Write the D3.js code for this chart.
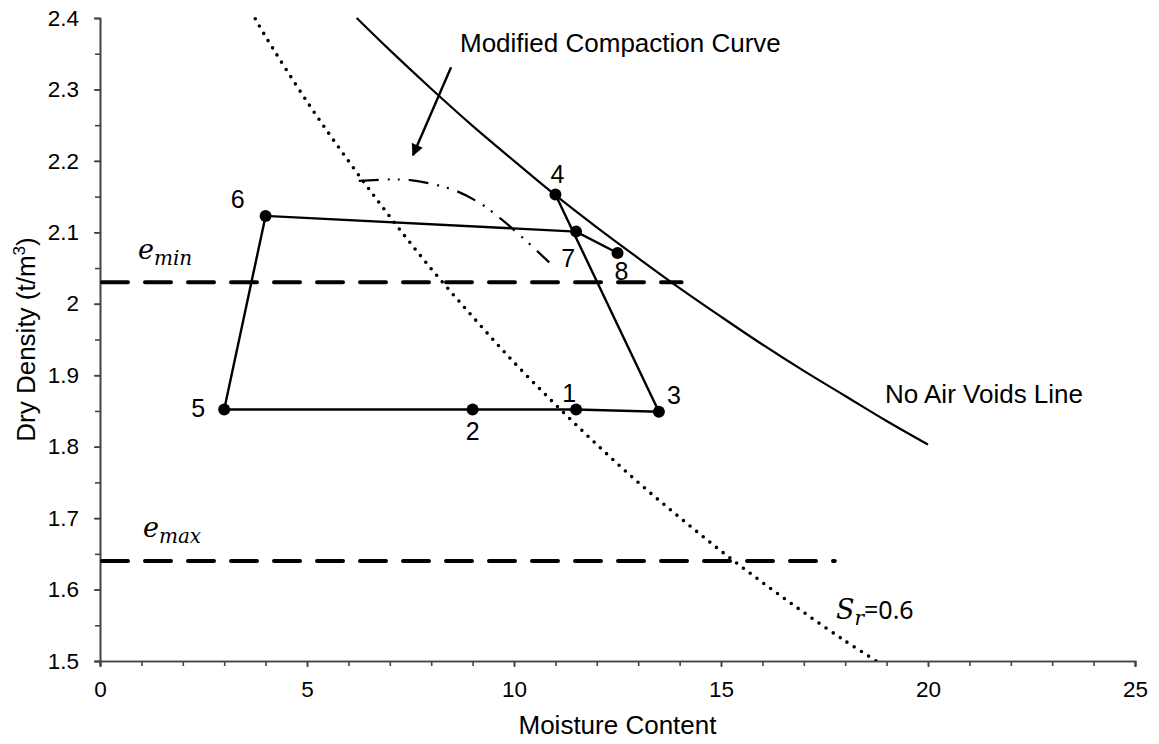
<!DOCTYPE html>
<html>
<head>
<meta charset="utf-8">
<script src="https://cdn.jsdelivr.net/npm/d3@7"></script>
<style>
  body { margin: 0; background: #fff; }
  text { font-family: "Liberation Sans", Arial, sans-serif; fill: #000; }
  .math { font-family: "DejaVu Serif", serif; font-style: italic; }
</style>
</head>
<body>
<svg id="chart"></svg>
<script>
// Stress path points
var ptLabels = ['1', '2', '3', '4', '5', '6', '7', '8'];
var ptMoisture = [11.5, 9, 13.5, 11, 3, 4, 11.5, 12.5];
var ptDensity = [1.852, 1.852, 1.849, 2.153, 1.852, 2.123, 2.101, 2.071];
// which points are joined, in order
var pathA = ['5', '2', '1', '3', '4'];
var pathB = ['5', '6', '7', '8'];

// No air voids line
var zavMoisture = [6.2, 7, 8, 9, 10, 11, 12, 13, 14, 15, 16, 17, 18, 19, 20];
var zavDensity = [2.40, 2.355, 2.301, 2.249, 2.200, 2.152, 2.107, 2.064, 2.022, 1.982, 1.943, 1.906, 1.871, 1.836, 1.803];

// Sr = 0.6 line
var srMoisture = [3.75, 4, 5, 6, 7, 8, 9, 10, 11, 12, 13, 14, 15, 16, 17, 18, 18.75];
var srDensity = [2.399, 2.374, 2.283, 2.200, 2.122, 2.049, 1.982, 1.918, 1.859, 1.803, 1.750, 1.701, 1.654, 1.610, 1.568, 1.528, 1.50];

// Modified compaction curve
var mcMoisture = [6.25, 7, 7.5, 8, 8.6, 9.2, 9.7, 10.2, 10.85];
var mcDensity = [2.172, 2.174, 2.173, 2.168, 2.158, 2.14, 2.118, 2.093, 2.058];

// void ratio limits: [density, x start, x end]
var eMin = [2.03, 0, 14.0];
var eMax = [1.64, 0, 17.7];

// axis ticks
var xTicks = [0, 5, 10, 15, 20, 25];
var yTicks = [1.5, 1.6, 1.7, 1.8, 1.9, 2.0, 2.1, 2.2, 2.3, 2.4];

// annotation arrow [x, y] start -> end
var arrowFrom = [8.48, 2.331];
var arrowTo = [7.56, 2.208];

var W = 1159, H = 744;
var margin = { top: 18, right: 24, bottom: 83, left: 100 };
var width = W - margin.left - margin.right;
var height = H - margin.top - margin.bottom;

var svg = d3.select('#chart').attr('width', W).attr('height', H);

var xScale = d3.scaleLinear().domain([0, 25]).range([0, width]);
var yScale = d3.scaleLinear().domain([1.5, 2.4]).range([height, 0]);

var g = svg.append('g')
    .attr('transform', 'translate(' + margin.left + ',' + margin.top + ')');

svg.append('defs').append('clipPath').attr('id', 'plotclip')
    .append('rect').attr('x', 0).attr('y', -2).attr('width', width).attr('height', height + 2);

svg.select('defs').append('marker')
    .attr('id', 'arrowhead')
    .attr('viewBox', '0 0 10 10')
    .attr('refX', 9).attr('refY', 5)
    .attr('markerWidth', 5.5).attr('markerHeight', 5)
    .attr('orient', 'auto')
    .append('path').attr('d', 'M0,0 L10,5 L0,10 z').attr('fill', '#000');

// Axes
var axisColor = '#444';
var xMinor = g.append('g')
    .attr('transform', 'translate(0,' + height + ')')
    .call(d3.axisBottom(xScale).tickValues(d3.range(0, 26, 1)).tickSize(5).tickFormat(''));
var xAxis = g.append('g')
    .attr('transform', 'translate(0,' + height + ')')
    .call(d3.axisBottom(xScale).tickValues(xTicks).tickSize(6).tickPadding(14).tickFormat(d3.format('d')));
var yMinor = g.append('g')
    .call(d3.axisLeft(yScale).tickValues(d3.range(0, 18).map(function(i) { return 1.5 + i * 0.05; })).tickSize(5).tickFormat(''));
var yAxis = g.append('g')
    .call(d3.axisLeft(yScale).tickValues(yTicks).tickSize(6).tickPadding(15)
        .tickFormat(function(d) { return String(+d.toFixed(1)); }));

[xMinor, xAxis, yMinor, yAxis].forEach(function(a) {
    a.selectAll('path').attr('stroke', axisColor).attr('stroke-width', 1.6);
    a.selectAll('line').attr('stroke', axisColor).attr('stroke-width', 1.6);
});
xAxis.selectAll('text').attr('font-size', 22.5).attr('fill', '#000')
    .attr('font-family', '"Liberation Sans", Arial, sans-serif');
yAxis.selectAll('text').attr('font-size', 22.5).attr('fill', '#000')
    .attr('font-family', '"Liberation Sans", Arial, sans-serif');

// Axis titles
svg.append('text')
    .attr('x', margin.left + width / 2)
    .attr('y', 734)
    .attr('text-anchor', 'middle')
    .attr('font-size', 26)
    .text('Moisture Content');

var yTitle = svg.append('text')
    .attr('transform', 'translate(35,' + (margin.top + height / 2) + ') rotate(-90)')
    .attr('text-anchor', 'middle')
    .attr('font-size', 26);
yTitle.append('tspan').text('Dry Density (t/m');
yTitle.append('tspan').attr('font-size', 17).attr('dy', -10).text('3');
yTitle.append('tspan').attr('dy', 10).text(')');

var plot = g.append('g').attr('clip-path', 'url(#plotclip)');

function pairs(xs, ys) {
    return xs.map(function(x, i) { return [x, ys[i]]; });
}

var smooth = d3.line()
    .x(function(d) { return xScale(d[0]); })
    .y(function(d) { return yScale(d[1]); })
    .curve(d3.curveCatmullRom);
var straight = d3.line()
    .x(function(d) { return xScale(d[0]); })
    .y(function(d) { return yScale(d[1]); });

// e_min / e_max dashed lines
[eMin, eMax].forEach(function(e) {
    plot.append('path')
        .attr('d', straight([[e[1], e[0]], [e[2], e[0]]]))
        .attr('fill', 'none')
        .attr('stroke', '#000')
        .attr('stroke-width', 4)
        .attr('stroke-linecap', 'round')
        .attr('stroke-dasharray', '26 17')
        .attr('transform', 'translate(2,0)');
});

// Sr = 0.6 dotted curve
plot.append('path')
    .attr('d', smooth(pairs(srMoisture, srDensity)))
    .attr('fill', 'none')
    .attr('stroke', '#000')
    .attr('stroke-width', 3.6)
    .attr('stroke-linecap', 'round')
    .attr('stroke-dasharray', '0 8.5');

// No air voids line
plot.append('path')
    .attr('d', smooth(pairs(zavMoisture, zavDensity)))
    .attr('fill', 'none')
    .attr('stroke', '#000')
    .attr('stroke-width', 2.2);

// Modified compaction curve (dash-dot-dot)
plot.append('path')
    .attr('d', smooth(pairs(mcMoisture, mcDensity)))
    .attr('fill', 'none')
    .attr('stroke', '#000')
    .attr('stroke-width', 2.2)
    .attr('stroke-dasharray', '20 9 2 8 2 9');

// Stress path
var pts = {};
ptLabels.forEach(function(l, i) { pts[l] = [ptMoisture[i], ptDensity[i]]; });

[pathA, pathB].forEach(function(p) {
    plot.append('path')
        .attr('d', straight(p.map(function(l) { return pts[l]; })))
        .attr('fill', 'none')
        .attr('stroke', '#000')
        .attr('stroke-width', 2.4);
});

plot.selectAll('.pt')
    .data(ptLabels)
    .enter()
    .append('circle')
    .attr('class', 'pt')
    .attr('cx', function(d) { return xScale(pts[d][0]); })
    .attr('cy', function(d) { return yScale(pts[d][1]); })
    .attr('r', 6)
    .attr('fill', '#000');

// point label offsets in px
var labelOffset = {
    '1': [-7, -8], '2': [0, 30], '3': [15, -8], '4': [2, -11],
    '5': [-26, 7], '6': [-28, -8], '7': [-8, 35], '8': [4, 27]
};
g.selectAll('.ptlabel')
    .data(ptLabels)
    .enter()
    .append('text')
    .attr('class', 'ptlabel')
    .attr('x', function(d) { return xScale(pts[d][0]) + labelOffset[d][0]; })
    .attr('y', function(d) { return yScale(pts[d][1]) + labelOffset[d][1]; })
    .attr('text-anchor', 'middle')
    .attr('font-size', 25)
    .text(function(d) { return d; });

// Arrow for compaction curve label
g.append('line')
    .attr('x1', xScale(arrowFrom[0])).attr('y1', yScale(arrowFrom[1]))
    .attr('x2', xScale(arrowTo[0])).attr('y2', yScale(arrowTo[1]))
    .attr('stroke', '#000')
    .attr('stroke-width', 2.4)
    .attr('marker-end', 'url(#arrowhead)');

// Annotations
svg.append('text').attr('x', 460).attr('y', 52).attr('font-size', 26).text('Modified Compaction Curve');
svg.append('text').attr('x', 885).attr('y', 403).attr('font-size', 26).text('No Air Voids Line');

function mathLabel(x, y, main, sub, rest) {
    var t = svg.append('text').attr('x', x).attr('y', y).attr('class', 'math').attr('font-size', 27);
    t.append('tspan').text(main);
    t.append('tspan').attr('font-size', 20).attr('dy', 6).text(sub);
    if (rest) {
        t.append('tspan').attr('dy', -6).attr('font-style', 'normal').attr('font-size', 25)
            .attr('font-family', '"Noto Sans", sans-serif').text(rest);
    }
}
mathLabel(138, 259, 'e', 'min');
mathLabel(143, 537, 'e', 'max');
mathLabel(836, 619, 'S', 'r', '=0.6');
</script>
</body>
</html>
